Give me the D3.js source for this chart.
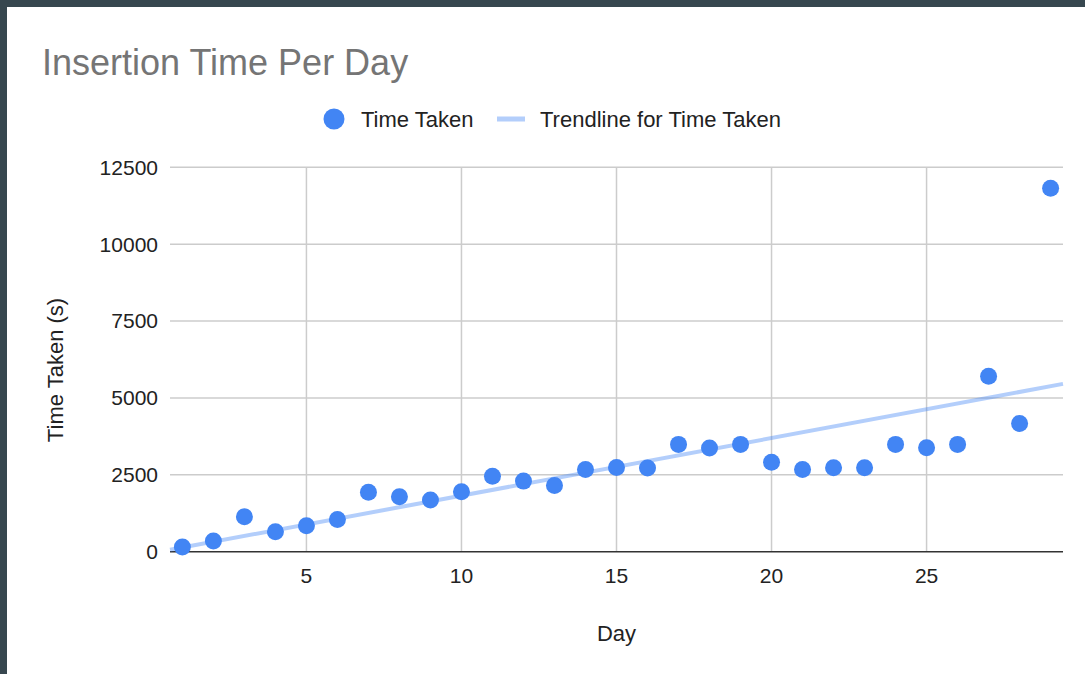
<!DOCTYPE html>
<meta charset="utf-8">
<style>
    body {
        margin:0;
        background:#37474f;
    }
    svg text {
        font-family:'Liberation Sans', Arial, sans-serif;
    }
</style>
<body>
<script src="https://d3js.org/d3.v7.min.js"></script>
<script>
var width = 1085, height = 674;

// data
var days = [1, 2, 3, 4, 5, 6, 7, 8, 9, 10, 11, 12, 13, 14, 15, 16, 17, 18, 19, 20, 21, 22, 23, 24, 25, 26, 27, 28, 29];
var timeTaken = [150, 350, 1135, 650, 845, 1050, 1930, 1785, 1680, 1950, 2450, 2295, 2155, 2675, 2740, 2720,
    3490, 3370, 3490, 2910, 2675, 2730, 2730, 3490, 3380, 3490, 5705, 4170, 11820];
var yTicks = [0, 2500, 5000, 7500, 10000, 12500];
var xTicks = [5, 10, 15, 20, 25];

var blue = '#4285f4';

var svg = d3.select('body').append('svg')
    .attr('width', width)
    .attr('height', height)
    .style('display', 'block');

// dark frame on top and left, white card
svg.append('rect').attr('width', width).attr('height', height).attr('fill', '#37474f');
svg.append('rect').attr('x', 7).attr('y', 7).attr('width', width - 7).attr('height', height - 7).attr('fill', '#fff');

var x = d3.scaleLinear().domain([0.6, 29.4]).range([170, 1063]);
var y = d3.scaleLinear().domain([0, 12500]).range([551.7, 167.3]);

// gridlines
svg.append('g').selectAll('line').data(yTicks.filter(function(d) { return d > 0; }))
  .enter().append('line')
    .attr('x1', x.range()[0]).attr('x2', x.range()[1])
    .attr('y1', y).attr('y2', y)
    .attr('stroke', '#cccccc').attr('stroke-width', 1.5);

svg.append('g').selectAll('line').data(xTicks)
  .enter().append('line')
    .attr('x1', x).attr('x2', x)
    .attr('y1', y.range()[1]).attr('y2', y.range()[0])
    .attr('stroke', '#cccccc').attr('stroke-width', 1.5);

// baseline
svg.append('line')
    .attr('x1', x.range()[0]).attr('x2', x.range()[1])
    .attr('y1', y(0)).attr('y2', y(0))
    .attr('stroke', '#333').attr('stroke-width', 1.5);

// tick labels
svg.append('g').selectAll('text').data(yTicks)
  .enter().append('text')
    .attr('x', 158).attr('y', y).attr('dy', '0.35em')
    .attr('text-anchor', 'end')
    .attr('font-size', 21).attr('fill', '#222')
    .text(function(d) { return d; });

svg.append('g').selectAll('text').data(xTicks)
  .enter().append('text')
    .attr('x', x).attr('y', 583)
    .attr('text-anchor', 'middle')
    .attr('font-size', 21).attr('fill', '#222')
    .text(function(d) { return d; });

// least squares trendline
var mx = d3.mean(days), my = d3.mean(timeTaken);
var sxy = d3.sum(days, function(d, i) { return (d - mx) * (timeTaken[i] - my); });
var sxx = d3.sum(days, function(d) { return (d - mx) * (d - mx); });
var slope = sxy / sxx, intercept = my - slope * mx;

svg.append('line')
    .attr('x1', x(x.domain()[0])).attr('y1', y(intercept + slope * x.domain()[0]))
    .attr('x2', x(x.domain()[1])).attr('y2', y(intercept + slope * x.domain()[1]))
    .attr('stroke', blue).attr('stroke-opacity', 0.4).attr('stroke-width', 4);

// points
svg.append('g').selectAll('circle').data(days)
  .enter().append('circle')
    .attr('cx', x)
    .attr('cy', function(d, i) { return y(timeTaken[i]); })
    .attr('r', 8.5)
    .attr('fill', blue);

// title
svg.append('text')
    .attr('x', 42).attr('y', 75)
    .attr('font-size', 36).attr('fill', '#757575')
    .text('Insertion Time Per Day');

// legend
svg.append('circle').attr('cx', 334).attr('cy', 119).attr('r', 10.5).attr('fill', blue);
svg.append('text').attr('x', 361).attr('y', 126.5)
    .attr('font-size', 22).attr('fill', '#222').text('Time Taken');
svg.append('line').attr('x1', 497).attr('x2', 525).attr('y1', 119).attr('y2', 119)
    .attr('stroke', blue).attr('stroke-opacity', 0.4).attr('stroke-width', 5);
svg.append('text').attr('x', 540).attr('y', 126.5)
    .attr('font-size', 22).attr('fill', '#222').text('Trendline for Time Taken');

// axis titles
svg.append('text')
    .attr('x', 616.5).attr('y', 641)
    .attr('text-anchor', 'middle')
    .attr('font-size', 22).attr('fill', '#222')
    .text('Day');

svg.append('text')
    .attr('transform', 'translate(63,370) rotate(-90)')
    .attr('text-anchor', 'middle')
    .attr('font-size', 22).attr('fill', '#222')
    .text('Time Taken (s)');
</script>
</body>
